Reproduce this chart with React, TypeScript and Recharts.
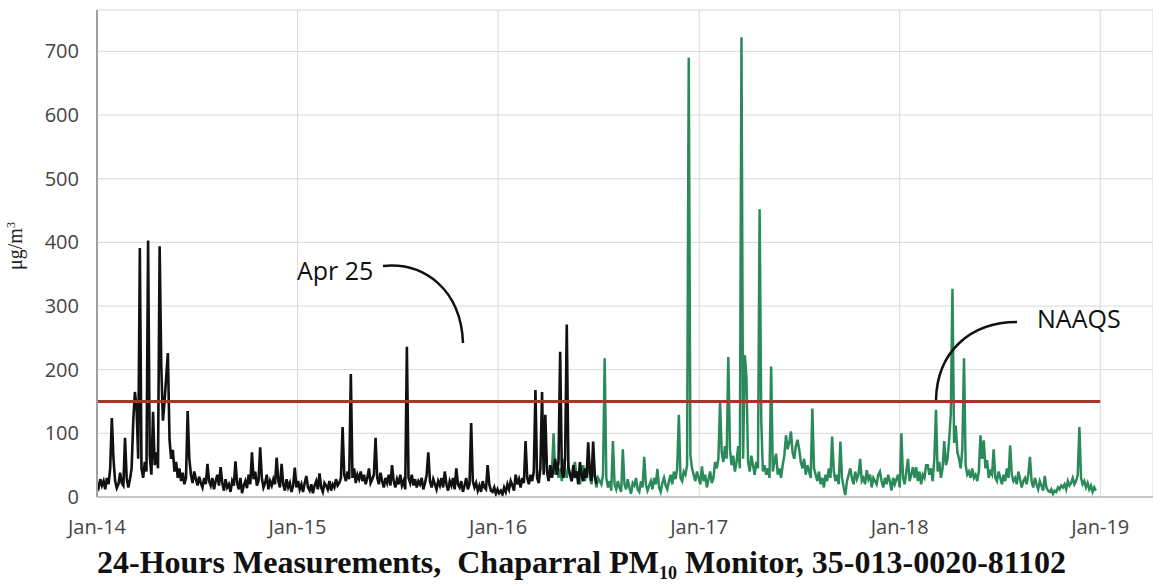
import React from "react";
import { LineChart, Line, XAxis, YAxis, CartesianGrid, ReferenceLine } from "recharts";

// Day offsets from Jan 1, 2014; samples every 3 days
const STEP_DAYS = 3;
const BLACK_START_DAY = 0;
const GREEN_START_DAY = 828;

const xTickDays = [0, 365, 730, 1096, 1461, 1826];
const xTickLabels = ["Jan-14", "Jan-15", "Jan-16", "Jan-17", "Jan-18", "Jan-19"];
const yTicks = [0, 100, 200, 300, 400, 500, 600, 700];
const naaqsLevel = 150;
const naaqsEndDay = 1826;

// Older monitor (black), Jan 2014 - Jun 2016
const blackA = [
  22, 15, 28, 18, 25, 12, 30, 20, 45, 124,
  60, 25, 14, 20, 38, 22, 18, 93, 30, 15,
  28, 45, 120, 165, 140, 60, 391, 45, 30, 55,
  40, 403, 65, 35, 134, 50, 70, 45, 394, 205,
  120, 150, 190, 226, 90, 60, 74, 40, 55, 30,
  45, 25, 38, 20, 30, 135, 60, 35, 22, 40,
  28, 18, 32, 22, 15, 30, 20, 52, 25, 18,
  30, 12, 25, 35, 18, 47, 22, 10, 28, 15,
  20, 8, 25, 18, 56, 22, 12, 30, 6, 18,
  25, 14, 35, 20, 70, 28, 40, 18, 25, 78,
];
const blackB = [
  30, 15, 22, 35, 12, 25, 18, 28, 20, 62,
  25, 15, 52, 20, 10, 28, 15, 22, 8, 18,
  46, 15, 25, 12, 20, 8, 22, 33, 15, 10,
  20, 6, 18, 25, 12, 37, 15, 8, 22, 18,
  12, 25, 10, 20, 15, 28, 18, 22, 30, 110,
  35, 25, 40, 28, 193, 30, 45, 22, 35, 28,
  40, 25, 35, 20, 30, 45, 22, 28, 35, 93,
  30, 20, 38, 25, 15, 30, 22, 35, 18, 50,
  25, 15, 28, 20, 35, 18, 25, 12, 236, 30,
  22, 35, 18, 28, 15, 25, 20, 30, 12, 22,
];
const blackC = [
  35, 70, 25, 15, 28, 20, 12, 25, 18, 30,
  15, 40, 20, 10, 25, 18, 30, 12, 45, 20,
  15, 25, 8, 18, 30, 12, 20, 116, 25, 15,
  22, 10, 18, 8, 25, 15, 12, 50, 20, 10,
  8, 15, 5, 12, 6, 10, 4, 15, 8, 20,
  12, 25, 18, 10, 35, 20, 28, 15, 30, 22,
  88, 30, 20, 35, 25, 40, 168, 30, 22, 45,
  165, 35, 129, 40, 25, 50, 30, 45, 60, 35,
  55, 228, 40, 30, 60, 271, 45, 35, 25, 50,
  30, 40, 20, 55, 35, 25, 45, 30, 86, 40,
  25, 87, 35, 20,
];

// Newer monitor (green), Apr 2016 - Dec 2018
const greenA = [
  40, 100, 35, 55, 30, 45, 25, 60, 40, 30,
  50, 35, 25, 45, 55, 30, 40, 20, 35, 50,
  25, 40, 55, 30, 20, 45, 35, 15, 30, 25,
  20, 35, 218, 30, 15, 25, 10, 88, 20, 12,
  25, 15, 8, 75, 20, 12, 28, 15, 5, 22,
  18, 30, 12, 8, 25, 15, 63, 20, 10, 18,
  25, 12, 30, 20, 44, 15, 8, 22, 30, 18,
  12, 25, 35, 20, 40, 28, 45, 129, 30, 25,
  40, 35, 50, 690, 65, 45, 35, 25, 40, 30,
  20, 48, 25, 35, 15, 28, 40, 22, 30, 55,
  45, 60, 150, 70, 55, 80, 60, 220, 75, 50,
];
const greenB = [
  65, 40, 55, 80, 45, 722, 60, 223, 189, 55,
  40, 65, 50, 35, 55, 45, 452, 120, 40, 50,
  35, 45, 30, 205, 40, 55, 68, 35, 45, 30,
  50, 65, 97, 75, 85, 103, 70, 60, 80, 90,
  75, 55, 45, 60, 35, 50, 40, 30, 139, 45,
  35, 25, 40, 20, 30, 15, 35, 25, 45, 30,
  95, 40, 25, 35, 20, 87, 30, 15, 3, 25,
  35, 45, 30, 20, 40, 28, 35, 60, 25, 30,
  20, 42, 28, 35, 15, 30, 25, 20, 35, 40,
  25, 15, 30, 20, 35, 25, 10, 30, 20, 28,
  35, 15, 100, 30, 20, 40, 60, 25, 35, 47,
];
const greenC = [
  30, 47, 25, 40, 20, 35, 30, 50, 50, 35,
  45, 25, 60, 137, 40, 55, 30, 45, 88, 50,
  60, 90, 130, 327, 85, 112, 70, 60, 45, 75,
  218, 50, 35, 40, 30, 45, 30, 35, 25, 40,
  97, 60, 89, 45, 58, 30, 40, 35, 75, 30,
  25, 40, 30, 20, 35, 25, 45, 30, 81, 35,
  25, 30, 20, 40, 28, 15, 25, 30, 20, 35,
  63, 25, 15, 30, 20, 12, 25, 18, 10, 33,
  15, 10, 8, 12, 5, 10, 8, 15, 12, 18,
  15, 20, 12, 25, 18, 22, 30, 20, 25, 35,
  110, 30, 20, 25, 15, 22, 12, 18, 8, 15,
  10,
];

const blackValues = [...blackA, ...blackB, ...blackC];
const greenValues = [...greenA, ...greenB, ...greenC];

type Row = { day: number; black?: number; green?: number };
const buildRows = (): Row[] => {
  const lastDay = Math.max(
    BLACK_START_DAY + (blackValues.length - 1) * STEP_DAYS,
    GREEN_START_DAY + (greenValues.length - 1) * STEP_DAYS
  );
  const rows: Row[] = [];
  for (let d = 0; d <= lastDay; d += STEP_DAYS) {
    const row: Row = { day: d };
    const bi = (d - BLACK_START_DAY) / STEP_DAYS;
    if (bi >= 0 && bi < blackValues.length) row.black = blackValues[bi];
    const gi = (d - GREEN_START_DAY) / STEP_DAYS;
    if (gi >= 0 && gi < greenValues.length) row.green = greenValues[gi];
    rows.push(row);
  }
  return rows;
};
const rows = buildRows();

const tickFont = { fill: "#454545", fontSize: 20, fontFamily: "'Open Sans', sans-serif" };

export default function App() {
  return (
    <div style={{ position: "absolute", left: 0, top: 0, width: 1153, height: 584, background: "#fff" }}>
      <LineChart width={1153} height={584} data={rows} margin={{ top: 10, right: 0, left: 0, bottom: 0 }}>
        <CartesianGrid stroke="#d9d9d9" strokeWidth={1} />
        <XAxis
          type="number"
          dataKey="day"
          domain={[0, 1922]}
          ticks={xTickDays}
          tickFormatter={(v: number) => xTickLabels[xTickDays.indexOf(v)] ?? ""}
          height={87}
          tickLine={false}
          tickMargin={17}
          axisLine={{ stroke: "#bdbdbd", strokeWidth: 1.5 }}
          tick={tickFont}
          allowDataOverflow
        />
        <YAxis
          type="number"
          domain={[0, 765]}
          ticks={yTicks}
          width={97}
          tickLine={false}
          tickMargin={12}
          axisLine={{ stroke: "#a0a0a0", strokeWidth: 2 }}
          tick={tickFont}
          allowDataOverflow
        />
        <Line type="linear" dataKey="green" stroke="#2b8a5a" strokeWidth={2.5} dot={false} isAnimationActive={false} connectNulls={false} />
        <Line type="linear" dataKey="black" stroke="#111111" strokeWidth={2.6} dot={false} isAnimationActive={false} connectNulls={false} />
        <ReferenceLine
          segment={[{ x: 0, y: naaqsLevel }, { x: naaqsEndDay, y: naaqsLevel }]}
          stroke="#a8352b"
          strokeWidth={3}
        />
      </LineChart>
      <svg
        width={1153}
        height={584}
        style={{ position: "absolute", left: 0, top: 0, pointerEvents: "none" }}
      >
        <text
          x={0}
          y={0}
          transform="translate(22,246) rotate(-90)"
          textAnchor="middle"
          fontFamily="'Liberation Serif', 'Times New Roman', serif"
          fontSize={20}
          fill="#222"
        >
          μg/m<tspan dy={-7} fontSize={12}>3</tspan>
        </text>
        <text x={297} y={280} fontFamily="'Open Sans', sans-serif" fontSize={25} fill="#111">Apr 25</text>
        <path d="M383,266 C425,262 461,290 463,343" fill="none" stroke="#111" strokeWidth={2.5} />
        <text x={1037} y={328} fontFamily="'Open Sans', sans-serif" fontSize={25} fill="#111">NAAQS</text>
        <path d="M1017,322 C970,322 937,352 936,400" fill="none" stroke="#111" strokeWidth={2.5} />
        <text
          x={97}
          y={573}
          fontFamily="'Liberation Serif', 'Times New Roman', serif"
          fontWeight="bold"
          fontSize={32}
          fill="#111"
          xmlSpace="preserve"
        >
          {"24-Hours Measurements,  Chaparral PM"}
          <tspan fontSize={18} dy={6}>10</tspan>
          <tspan dy={-6}>{" Monitor, 35-013-0020-81102"}</tspan>
        </text>
      </svg>
    </div>
  );
}
